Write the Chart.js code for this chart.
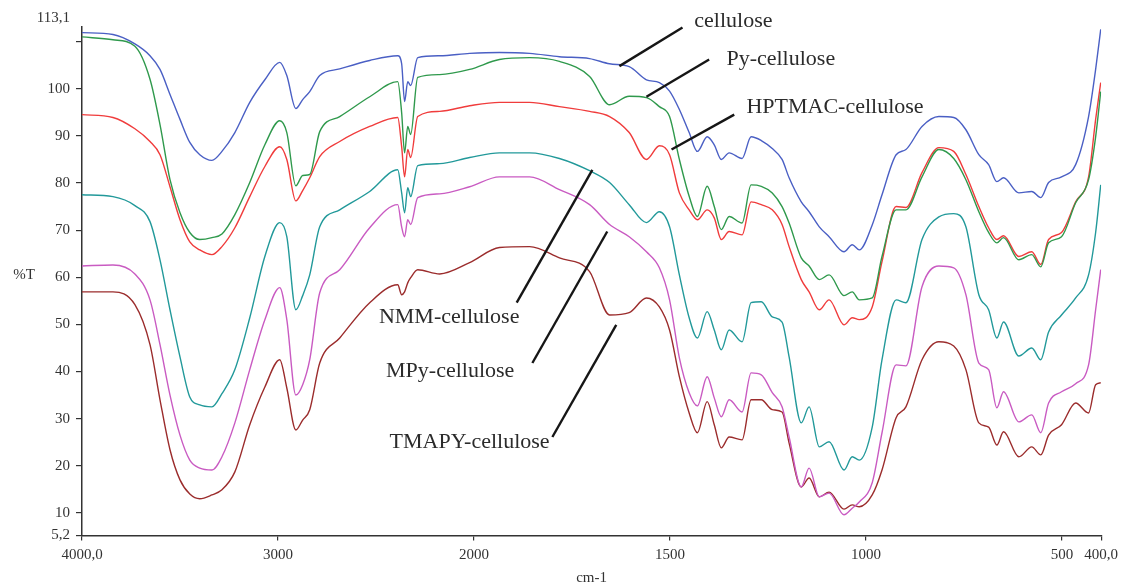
<!DOCTYPE html>
<html>
<head>
<meta charset="utf-8">
<title>FTIR spectra of cellulose derivatives</title>
<script src="https://cdn.jsdelivr.net/npm/chart.js@4.4.0/dist/chart.umd.min.js"></script>
<style>
  html, body { margin: 0; padding: 0; background: #fff; }
  #wrap { width: 1124px; height: 588px; }
</style>
</head>
<body>
<div id="wrap"><canvas id="chart" width="1124" height="588"></canvas></div>
<script>
// ---- data -----------------------------------------------------------
const wavenumbers = [4000, 3842, 3730, 3653, 3602, 3551, 3500, 3450, 3399, 3337, 3286, 3220, 3144, 3067, 2991, 2955, 2909, 2874, 2838, 2787,
  2685, 2532, 2389, 2369, 2354, 2338, 2323, 2287, 2175, 2022, 1935, 1858, 1782, 1705, 1654, 1604, 1560, 1527, 1501, 1476,
  1451, 1430, 1405, 1387, 1369, 1349, 1316, 1293, 1267, 1239, 1214, 1196, 1165, 1145, 1119, 1094, 1056, 1035, 1017, 984,
  959, 923, 898, 857, 814, 776, 745, 712, 687, 666, 649, 610, 577, 554, 534, 501, 465, 432, 414, 401];

const cellulose = [111.9, 111.5, 109.5, 107.0, 104.1, 98.8, 93.5, 88.6, 86.0, 84.8, 86.7, 90.7, 97.1, 101.9, 105.6, 102.8, 95.8, 97.7, 99.4, 102.8,
  104.2, 106.0, 107.0, 105.3, 97.3, 101.5, 100.7, 106.6, 107.0, 107.5, 107.7, 107.5, 106.8, 106.4, 105.3, 104.7, 101.9, 101.3, 99.5, 95.6,
  90.7, 86.7, 89.8, 88.1, 85.0, 86.4, 85.2, 89.8, 89.0, 87.3, 85.0, 81.1, 76.0, 73.9, 70.7, 68.6, 65.4, 66.9, 65.8, 71.1,
  77.5, 86.0, 87.1, 92.0, 94.1, 93.9, 91.3, 86.0, 83.9, 80.3, 81.1, 77.9, 78.2, 76.9, 80.1, 81.3, 83.9, 94.1, 104.1, 112.6];

const pyCellulose = [111.0, 110.4, 109.0, 102.0, 92.4, 80.7, 73.7, 69.5, 68.0, 68.4, 69.2, 73.3, 80.1, 88.1, 93.2, 90.7, 79.4, 81.6, 81.8, 90.9,
  94.1, 98.3, 101.5, 94.9, 86.4, 92.0, 90.3, 102.4, 103.0, 104.1, 106.2, 106.6, 105.8, 102.6, 96.6, 98.4, 98.1, 96.2, 94.1, 85.0,
  77.2, 72.9, 79.3, 75.0, 70.1, 72.9, 71.5, 79.6, 79.3, 77.9, 75.0, 71.5, 64.1, 62.4, 59.5, 60.5, 56.1, 56.9, 55.2, 55.6,
  64.4, 74.3, 74.3, 81.3, 87.1, 85.2, 80.7, 73.9, 69.5, 67.3, 68.4, 63.7, 64.8, 62.2, 67.3, 68.6, 75.8, 80.7, 89.8, 99.4];

const hptmacCellulose = [94.5, 93.9, 91.5, 88.8, 86.0, 79.2, 72.2, 67.5, 65.8, 64.8, 66.5, 70.5, 77.1, 83.5, 87.7, 85.0, 76.2, 78.4, 81.1, 85.6,
  88.8, 92.0, 93.9, 87.7, 81.3, 87.1, 85.4, 94.1, 95.2, 96.4, 97.1, 97.1, 96.2, 95.2, 94.1, 90.7, 85.0, 87.9, 86.0, 77.9,
  74.3, 72.2, 74.3, 72.6, 68.0, 69.7, 69.0, 76.0, 75.4, 74.3, 71.2, 66.5, 59.5, 56.9, 53.1, 55.2, 49.9, 51.4, 51.0, 53.7,
  63.3, 75.0, 74.8, 82.2, 87.5, 86.7, 81.8, 75.0, 70.5, 68.0, 68.8, 64.4, 65.4, 62.7, 68.0, 69.5, 76.0, 81.3, 93.5, 101.3];

const nmmCellulose = [77.5, 77.1, 75.2, 71.8, 63.7, 53.1, 43.1, 34.6, 32.9, 32.5, 35.3, 40.4, 51.4, 64.4, 71.6, 68.6, 53.1, 56.1, 60.5, 70.7,
  74.3, 78.2, 82.8, 77.9, 73.7, 79.0, 77.1, 83.7, 84.1, 85.4, 86.4, 86.4, 85.2, 82.6, 80.1, 75.4, 71.6, 73.9, 70.7, 60.5,
  51.4, 47.1, 52.7, 48.8, 44.6, 48.8, 46.3, 54.6, 54.8, 51.6, 50.5, 43.1, 29.1, 32.5, 24.0, 25.1, 19.1, 21.9, 21.2, 28.2,
  42.5, 55.2, 54.6, 68.0, 72.8, 73.5, 70.7, 56.3, 53.1, 47.1, 50.5, 43.3, 45.0, 42.5, 48.4, 52.0, 55.6, 60.5, 69.5, 79.6];

const mpyCellulose = [62.4, 62.6, 60.7, 55.2, 45.7, 35.0, 26.5, 21.2, 19.5, 19.1, 21.9, 29.1, 40.4, 51.0, 57.8, 51.0, 35.0, 37.2, 42.5, 56.7,
  61.6, 70.5, 75.4, 70.7, 68.6, 72.2, 71.2, 76.9, 77.7, 79.2, 81.3, 81.3, 78.6, 75.4, 71.2, 68.6, 65.4, 62.0, 55.2, 42.9,
  35.5, 32.7, 38.9, 34.4, 30.4, 34.0, 31.4, 39.7, 39.3, 35.5, 32.5, 26.1, 15.5, 19.5, 13.4, 14.2, 9.6, 11.0, 12.3, 16.4,
  27.0, 41.4, 41.2, 58.0, 62.4, 62.0, 56.3, 41.8, 40.4, 32.3, 35.7, 29.3, 30.8, 27.0, 33.3, 35.7, 37.4, 41.4, 53.1, 61.6];

const tmapyCellulose = [56.9, 56.9, 54.2, 45.7, 34.0, 23.4, 17.0, 14.0, 13.0, 13.8, 14.9, 18.7, 28.7, 36.7, 42.5, 36.5, 27.6, 29.7, 31.9, 41.8,
  47.1, 54.6, 58.4, 56.3, 56.9, 58.8, 59.9, 61.6, 60.7, 63.1, 66.3, 66.5, 64.1, 61.2, 52.0, 52.5, 55.6, 53.7, 48.8, 38.9,
  31.2, 27.0, 33.6, 28.7, 23.8, 26.1, 25.5, 34.0, 34.0, 31.9, 31.4, 24.8, 15.5, 17.4, 13.4, 14.4, 10.8, 11.7, 11.3, 13.8,
  19.1, 30.2, 32.5, 42.5, 46.3, 45.4, 40.4, 29.1, 28.2, 24.4, 27.2, 21.9, 24.0, 22.3, 26.5, 28.7, 33.3, 31.2, 37.2, 37.6];

const xTicks = [4000, 3000, 2000, 1500, 1000, 500, 400];
const yTicks = [5.2, 10, 20, 30, 40, 50, 60, 70, 80, 90, 100, 110, 113.1];

// callout labels: text, line from/to and text anchor, all in (cm-1, %T)
const callouts = [
  { text: "cellulose",        from: [1629, 104.8], to: [1468, 113.0], at: [1438, 113.2], align: "left" },
  { text: "Py-cellulose",     from: [1560, 98.3],  to: [1400, 106.2], at: [1356, 105.0], align: "left" },
  { text: "HPTMAC-cellulose", from: [1496, 87.1],  to: [1336, 94.5],  at: [1305, 94.9],  align: "left" },
  { text: "NMM-cellulose",    from: [1698, 82.8],  to: [1891, 54.6],  at: [1884, 50.3],  align: "right" },
  { text: "MPy-cellulose",    from: [1660, 69.7],  to: [1851, 41.8],  at: [1897, 38.9],  align: "right" },
  { text: "TMAPY-cellulose",  from: [1637, 49.9],  to: [1800, 26.1],  at: [1807, 23.8],  align: "right" },
];

// ---- wavenumber axis: 4000-2000 drawn at half the scale of 2000-400 ----
class FtirScale extends Chart.LinearScale {
  toUnit(v) { return v >= 2000 ? (4000 - v) / 1000 : 2 + (2000 - v) / 500; }
  fromUnit(u) { return u <= 2 ? 4000 - u * 1000 : 2000 - (u - 2) * 500; }
  getPixelForValue(v) { return this.left + (this.toUnit(v) / 5.2) * this.width; }
  getValueForPixel(px) { return this.fromUnit(((px - this.left) / this.width) * 5.2); }
  buildTicks() { return xTicks.map((v) => ({ value: v })); }
}
FtirScale.id = "ftir";
FtirScale.defaults = Chart.LinearScale.defaults;
Chart.register(FtirScale);

const serif = '"Liberation Serif", "Times New Roman", serif';
const ink = "#333";

const calloutPlugin = {
  id: "callouts",
  afterDraw(chart) {
    const { ctx, scales } = chart;
    const x = scales.x, y = scales.y;
    ctx.save();
    callouts.forEach((c) => {
      ctx.strokeStyle = "#161616";
      ctx.lineWidth = 2.4;
      ctx.beginPath();
      ctx.moveTo(x.getPixelForValue(c.from[0]), y.getPixelForValue(c.from[1]));
      ctx.lineTo(x.getPixelForValue(c.to[0]), y.getPixelForValue(c.to[1]));
      ctx.stroke();
      ctx.font = "22px " + serif;
      ctx.fillStyle = "#2b2b2b";
      ctx.textAlign = c.align;
      ctx.textBaseline = "alphabetic";
      ctx.fillText(c.text, x.getPixelForValue(c.at[0]), y.getPixelForValue(c.at[1]));
    });
    // axis extras: top value and horizontal %T title
    ctx.font = "15px " + serif;
    ctx.fillStyle = ink;
    ctx.textBaseline = "middle";
    ctx.textAlign = "right";
    ctx.fillText("113,1", x.left - 12, y.top - 9);
    ctx.textAlign = "center";
    ctx.fillText("%T", 24, y.getPixelForValue(60) - 2);
    ctx.restore();
  },
};

const series = [
  { label: "cellulose", data: cellulose, color: "#4a5fc4" },
  { label: "Py-cellulose", data: pyCellulose, color: "#2f994c" },
  { label: "HPTMAC-cellulose", data: hptmacCellulose, color: "#f03c3c" },
  { label: "NMM-cellulose", data: nmmCellulose, color: "#22999a" },
  { label: "MPy-cellulose", data: mpyCellulose, color: "#c95bc2" },
  { label: "TMAPY-cellulose", data: tmapyCellulose, color: "#9b2c2c" },
];

new Chart(document.getElementById("chart"), {
  type: "line",
  data: {
    datasets: series.map((s) => ({
      label: s.label,
      data: wavenumbers.map((w, i) => ({ x: w, y: s.data[i] })),
      borderColor: s.color,
      borderWidth: 1.4,
      pointRadius: 0,
      cubicInterpolationMode: "monotone",
      fill: false,
    })),
  },
  options: {
    responsive: false,
    animation: false,
    devicePixelRatio: 1,
    layout: { padding: { left: 0, right: 22, top: 27, bottom: 0 } },
    plugins: { legend: { display: false }, tooltip: { enabled: false } },
    scales: {
      x: {
        type: "ftir",
        min: 400,
        max: 4000,
        afterFit: (s) => { s.height = 52.5; },
        border: { display: true, color: ink, width: 1.5 },
        grid: { drawOnChartArea: false, drawTicks: true, tickLength: 5, color: ink, lineWidth: 1.2 },
        ticks: {
          autoSkip: false,
          maxRotation: 0,
          padding: 6,
          color: ink,
          font: { family: serif, size: 15 },
          callback: (v) => (v === 4000 ? "4000,0" : v === 400 ? "400,0" : String(v)),
        },
        title: { display: true, text: "cm-1", color: ink, font: { family: serif, size: 15 }, padding: { top: 0, bottom: 1 } },
      },
      y: {
        type: "linear",
        min: 5.2,
        max: 113.1,
        afterFit: (s) => { s.width = 82; },
        afterBuildTicks: (s) => { s.ticks = yTicks.map((v) => ({ value: v })); },
        border: { display: true, color: ink, width: 1.5 },
        grid: {
          drawOnChartArea: false,
          drawTicks: true,
          tickLength: 6,
          lineWidth: 1.2,
          color: (c) => (c.tick && c.tick.value === 113.1 ? "rgba(0,0,0,0)" : ink),
        },
        ticks: {
          autoSkip: false,
          padding: 6,
          color: ink,
          font: { family: serif, size: 15 },
          callback: (v) => (v === 5.2 ? "5,2" : v === 110 || v === 113.1 ? "" : String(v)),
        },
      },
    },
  },
  plugins: [calloutPlugin],
});
</script>
</body>
</html>
